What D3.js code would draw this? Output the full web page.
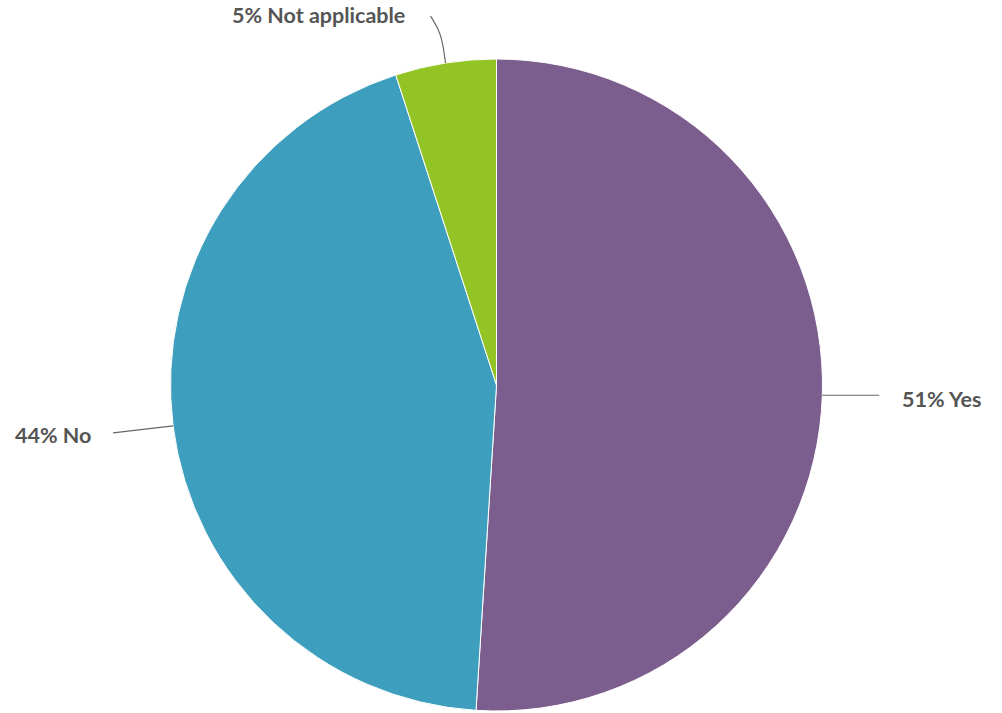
<!DOCTYPE html>
<html><head><meta charset="utf-8">
<script src="https://cdn.jsdelivr.net/npm/d3@7"></script>
<style>html,body{margin:0;padding:0;background:#fff;}svg{display:block;}</style>
</head><body>
<svg id="c" width="1002" height="713"></svg>
<script>
const categories = ["Yes", "No", "Not applicable"];
const values = [51, 44, 5];
const colors = ["#7B5E8E", "#3D9FBD", "#93C425"];

const svg = d3.select("#c");
const cx = 496.5, cy = 385, R = 326;
const g = svg.append("g").attr("transform", `translate(${cx},${cy})`);
const data = categories.map((c, i) => ({cat: c, val: values[i], col: colors[i]}));
const pie = d3.pie().value(d => d.val).sort(null);
const arc = d3.arc().innerRadius(0).outerRadius(R);
const arcs = pie(data);

g.selectAll("path.slice").data(arcs).join("path")
  .attr("class", "slice")
  .attr("d", arc)
  .attr("fill", d => d.data.col)
  .attr("stroke", "#fff").attr("stroke-width", 1);

// label layouts (positions relative to centre)
const labelLayout = {
  "Yes": {pts: [[0, 0], [57, 0]], tx: 405.5, ty: 22, curve: false},
  "No": {pts: [[0, 0], [-60, 7]], tx: -481.5, ty: 58, curve: false},
  "Not applicable": {pts: [[0, 0], [-4, -30], [-15, -47]], tx: -264.5, ty: -362, curve: true}
};

arcs.forEach(a => {
  const mid = (a.startAngle + a.endAngle) / 2;
  const ex = R * Math.sin(mid), ey = -R * Math.cos(mid);
  const L = labelLayout[a.data.cat];
  const pts = L.pts.map(p => [ex + p[0], ey + p[1]]);
  const line = d3.line().curve(L.curve ? d3.curveBasis : d3.curveLinear);
  g.append("path").attr("d", line(pts)).attr("fill", "none")
    .attr("stroke", "#666").attr("stroke-width", 1.2);
  g.append("text")
    .attr("x", L.tx).attr("y", L.ty)
    .attr("text-anchor", "start")
    .attr("font-family", "Lato, sans-serif").attr("font-weight", "bold")
    .attr("font-size", 21.5).attr("fill", "#555")
    .text(`${a.data.val}% ${a.data.cat}`);
});
</script>
</body></html>
